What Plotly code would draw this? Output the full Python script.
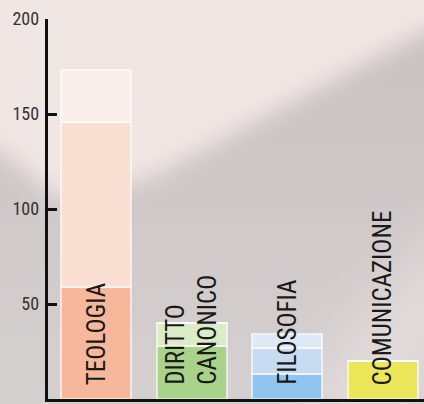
import base64
import plotly.graph_objects as go

# facoltà e iscritti (tre fasce per barra, dal basso verso l'alto)
categories = ["TEOLOGIA", "DIRITTO<br>CANONICO", "FILOSOFIA", "COMUNICAZIONE"]
base_vals = [59, 28, 13, 20]
mid_vals = [87, 12, 14, 0]
top_vals = [27, 0, 7, 0]

y_ticks = [0, 50, 100, 150, 200]

base_colors = ["#F6B79B", "#A9D28B", "#8FC5EE", "#ECE75A"]
mid_colors = ["#FADFD3", "#DCEBC8", "#C7DCF2", "#ECE75A"]
top_colors = ["#F9EEEA", "#DCEBC8", "#DDEAF6", "#ECE75A"]

FONT = "Liberation Sans Narrow, Arial Narrow, Roboto Condensed, Liberation Sans, sans-serif"

# sfondo sfumato (luce diagonale) come immagine svg
svg = """<svg xmlns='http://www.w3.org/2000/svg' width='424' height='404'>
<defs>
<linearGradient id='g' x1='0' y1='0' x2='0' y2='1'>
<stop offset='0' stop-color='#C9C1C1'/><stop offset='1' stop-color='#D5D0D0'/>
</linearGradient>
<filter id='b' x='-50%' y='-50%' width='200%' height='200%'><feGaussianBlur stdDeviation='11'/></filter>
<filter id='c' x='-50%' y='-50%' width='200%' height='200%'><feGaussianBlur stdDeviation='25'/></filter>
</defs>
<rect width='424' height='404' fill='url(#g)'/>
<polygon points='-80,-80 504,-80 504,10 424,32 150,178 60,200 0,150 -80,130' fill='#F0E6E4' filter='url(#b)'/>
<ellipse cx='400' cy='340' rx='45' ry='150' transform='rotate(40 400 340)' fill='#E2DADA' filter='url(#c)'/>
</svg>"""
bg_src = "data:image/svg+xml;base64," + base64.b64encode(svg.encode()).decode()

fig = go.Figure()
for vals, cols in [(base_vals, base_colors), (mid_vals, mid_colors), (top_vals, top_colors)]:
    fig.add_trace(go.Bar(
        x=categories,
        y=vals,
        marker=dict(color=cols, line=dict(color="rgba(255,255,255,0.6)", width=2)),
        hoverinfo="skip",
        showlegend=False,
    ))

for cat in categories:
    fig.add_annotation(
        x=cat, y=0, xref="x", yref="y",
        text=cat, textangle=-90, showarrow=False,
        xanchor="center", yanchor="bottom", yshift=12,
        align="left",
        font=dict(family=FONT, size=25, color="#1A1A1A"),
    )

fig.update_layout(
    template="none",
    width=424,
    height=404,
    autosize=False,
    barmode="stack",
    bargap=0.27,
    margin=dict(l=0, r=0, t=0, b=0, pad=0),
    paper_bgcolor="#D2CCCC",
    plot_bgcolor="rgba(0,0,0,0)",
    images=[dict(source=bg_src, xref="paper", yref="paper", x=0, y=1,
                 sizex=1, sizey=1, sizing="stretch", layer="below")],
    xaxis=dict(
        domain=[47.7 / 424, 1],
        range=[-0.507, 3.43],
        automargin=False,
        showticklabels=False,
        ticks="",
        showgrid=False,
        zeroline=False,
        showline=True,
        linecolor="#111111",
        linewidth=3,
        layer="below traces",
    ),
    yaxis=dict(
        domain=[5 / 404, 385 / 404],
        range=[0, 200],
        automargin=False,
        tickvals=y_ticks,
        ticks="inside",
        ticklen=9,
        tickwidth=3,
        tickcolor="#111111",
        showgrid=False,
        zeroline=False,
        showline=True,
        linecolor="#111111",
        linewidth=3,
        ticklabelstandoff=2,
        tickfont=dict(family=FONT, size=18, color="#333333"),
    ),
)

# niente margine bianco della pagina attorno al grafico, niente modebar
fig.write_html("out.html", config={"displayModeBar": False},
               post_script="document.body.style.margin='0';")
